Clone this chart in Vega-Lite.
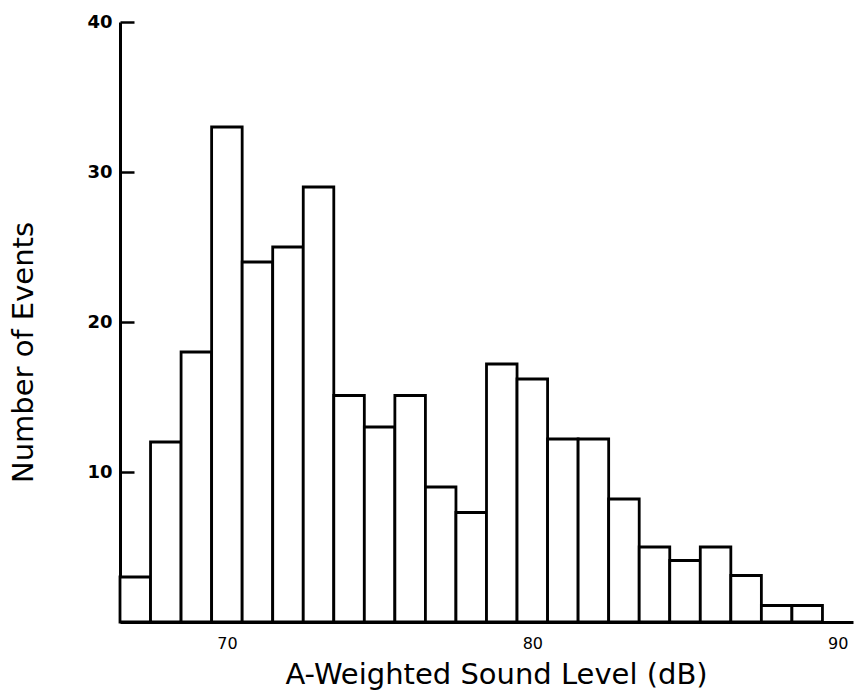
{
  "$schema": "https://vega.github.io/schema/vega-lite/v6.json",
  "width": 733,
  "height": 600,
  "autosize": {"type": "none"},
  "padding": {"left": 120, "top": 22, "right": 3, "bottom": 76},
  "background": "white",
  "config": {"view": {"stroke": null}},
  "data": {
    "values": [
      {"lo": 66.5, "hi": 67.5, "count": 3},
      {"lo": 67.5, "hi": 68.5, "count": 12},
      {"lo": 68.5, "hi": 69.5, "count": 18},
      {"lo": 69.5, "hi": 70.5, "count": 33},
      {"lo": 70.5, "hi": 71.5, "count": 24},
      {"lo": 71.5, "hi": 72.5, "count": 25},
      {"lo": 72.5, "hi": 73.5, "count": 29},
      {"lo": 73.5, "hi": 74.5, "count": 15.1},
      {"lo": 74.5, "hi": 75.5, "count": 13},
      {"lo": 75.5, "hi": 76.5, "count": 15.1},
      {"lo": 76.5, "hi": 77.5, "count": 9},
      {"lo": 77.5, "hi": 78.5, "count": 7.3},
      {"lo": 78.5, "hi": 79.5, "count": 17.2},
      {"lo": 79.5, "hi": 80.5, "count": 16.2},
      {"lo": 80.5, "hi": 81.5, "count": 12.2},
      {"lo": 81.5, "hi": 82.5, "count": 12.2},
      {"lo": 82.5, "hi": 83.5, "count": 8.2},
      {"lo": 83.5, "hi": 84.5, "count": 5},
      {"lo": 84.5, "hi": 85.5, "count": 4.1},
      {"lo": 85.5, "hi": 86.5, "count": 5},
      {"lo": 86.5, "hi": 87.5, "count": 3.1},
      {"lo": 87.5, "hi": 88.5, "count": 1.1},
      {"lo": 88.5, "hi": 89.5, "count": 1.1}
    ]
  },
  "mark": {"type": "bar", "fill": "white", "stroke": "black", "strokeWidth": 2.8},
  "encoding": {
    "x": {
      "field": "lo",
      "type": "quantitative",
      "scale": {"domain": [66.5, 90.5], "nice": false, "zero": false},
      "axis": {
        "values": [70, 80, 90],
        "ticks": false,
        "grid": false,
        "domainColor": "black",
        "domainWidth": 3,
        "labelFont": "DejaVu Sans",
        "labelFontSize": 16,
        "labelColor": "black",
        "labelPadding": 13,
        "title": "A-Weighted Sound Level (dB)",
        "titleFont": "DejaVu Sans",
        "titleFontSize": 29,
        "titleFontWeight": "normal",
        "titleColor": "black",
        "titleX": 376,
        "titlePadding": 9
      }
    },
    "x2": {"field": "hi"},
    "y": {
      "field": "count",
      "type": "quantitative",
      "scale": {"domain": [0, 40], "nice": false},
      "axis": {
        "values": [10, 20, 30, 40],
        "ticks": true,
        "tickSize": -14,
        "tickWidth": 2.5,
        "tickColor": "black",
        "grid": false,
        "domainColor": "black",
        "domainWidth": 3,
        "labelFont": "DejaVu Sans",
        "labelFontSize": 18,
        "labelFontWeight": "bold",
        "labelColor": "black",
        "labelPadding": 22,
        "title": "Number of Events",
        "titleFont": "DejaVu Sans",
        "titleFontSize": 29,
        "titleFontWeight": "normal",
        "titleColor": "black",
        "titleY": 330,
        "titlePadding": 48
      }
    },
    "y2": {"datum": 0}
  }
}
